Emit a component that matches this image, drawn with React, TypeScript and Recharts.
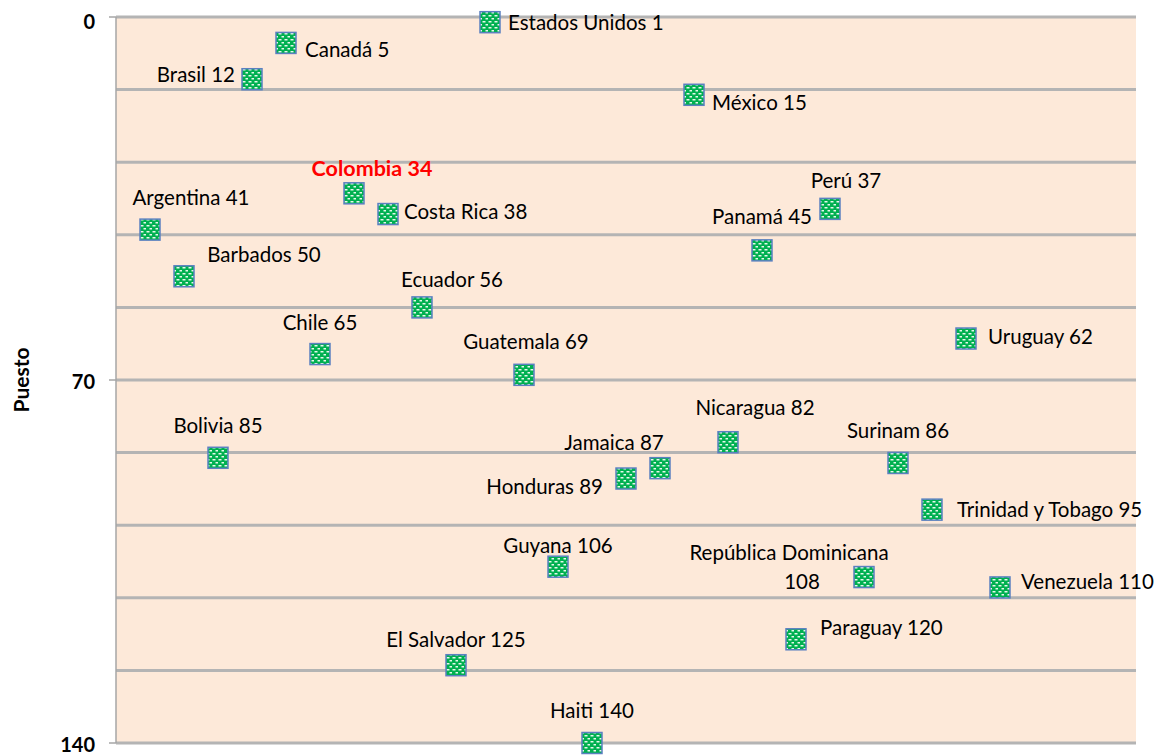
import { CartesianGrid, Scatter, ScatterChart, XAxis, YAxis, Label } from "recharts";

// paises en orden alfabetico, posicion horizontal = indice
const paises = [
  "Argentina", "Barbados", "Bolivia", "Brasil", "Canadá", "Chile", "Colombia", "Costa Rica",
  "Ecuador", "El Salvador", "Estados Unidos", "Guatemala", "Guyana", "Haiti", "Honduras",
  "Jamaica", "México", "Nicaragua", "Panamá", "Paraguay", "Perú", "República Dominicana",
  "Surinam", "Trinidad y Tobago", "Uruguay", "Venezuela",
];
const posicion = [1, 2, 3, 4, 5, 6, 7, 8, 9, 10, 11, 12, 13, 14, 15, 16, 17, 18, 19, 20, 21, 22, 23, 24, 25, 26];
const puestos = [41, 50, 85, 12, 5, 65, 34, 38, 56, 125, 1, 69, 106, 140, 89, 87, 15, 82, 45, 120, 37, 108, 86, 95, 62, 110];
const yTicks = [0, 14, 28, 42, 56, 70, 84, 98, 112, 126, 140];
const yLabels = [0, 70, 140];

const data = paises.map((p, i) => ({ pais: p, x: posicion[i], puesto: puestos[i] }));

// donde va cada etiqueta respecto al marcador
const etiquetas: Record<string, { dx: number; dy: number; a: string; dx2?: number; dy2?: number }> = {
  "Estados Unidos": { dx: 18, dy: 0, a: "start" },
  "Canadá": { dx: 19, dy: 6, a: "start" },
  Brasil: { dx: -17, dy: -5, a: "end" },
  "México": { dx: 18, dy: 7, a: "start" },
  Colombia: { dx: 18, dy: -25, a: "middle" },
  "Costa Rica": { dx: 16, dy: -3, a: "start" },
  Argentina: { dx: 41, dy: -33, a: "middle" },
  "Perú": { dx: 16, dy: -29, a: "middle" },
  "Panamá": { dx: 0, dy: -34, a: "middle" },
  Barbados: { dx: 80, dy: -22, a: "middle" },
  Ecuador: { dx: 30, dy: -28, a: "middle" },
  Chile: { dx: 0, dy: -32, a: "middle" },
  Guatemala: { dx: 2, dy: -34, a: "middle" },
  Uruguay: { dx: 22, dy: -3, a: "start" },
  Bolivia: { dx: 0, dy: -33, a: "middle" },
  Nicaragua: { dx: 27, dy: -35, a: "middle" },
  Jamaica: { dx: -46, dy: -26, a: "middle" },
  Honduras: { dx: -23, dy: 7, a: "end" },
  Surinam: { dx: 0, dy: -33, a: "middle" },
  "Trinidad y Tobago": { dx: 25, dy: -1, a: "start" },
  Guyana: { dx: 0, dy: -22, a: "middle" },
  "República Dominicana": { dx: -75, dy: -25, a: "middle", dx2: -62, dy2: 4 },
  Venezuela: { dx: 21, dy: -6, a: "start" },
  Paraguay: { dx: 24, dy: -12, a: "start" },
  "El Salvador": { dx: 0, dy: -26, a: "middle" },
  Haiti: { dx: 0, dy: -33, a: "middle" },
};

const fuente = "Lato, 'Open Sans', sans-serif";

function Marcador(props: any) {
  const { cx, cy, payload } = props;
  const e = etiquetas[payload.pais];
  const rojo = payload.pais === "Colombia";
  const txtStyle = {
    fontFamily: fuente,
    fontSize: rojo ? 21.5 : 20.5,
    fill: rojo ? "#FF0000" : "#000",
    fontWeight: rojo ? 700 : 400,
  };
  return (
    <g>
      <rect x={cx - 10} y={cy - 10.5} width={20} height={21} fill="url(#verde)" stroke="#5B80C0" strokeWidth={1.5} />
      {e.dx2 !== undefined ? (
        <>
          <text x={cx + e.dx} y={cy + e.dy} textAnchor={e.a as any} dominantBaseline="central" style={txtStyle}>
            {payload.pais}
          </text>
          <text x={cx + e.dx2} y={cy + (e.dy2 as number)} textAnchor="middle" dominantBaseline="central" style={txtStyle}>
            {payload.puesto}
          </text>
        </>
      ) : (
        <text x={cx + e.dx} y={cy + e.dy} textAnchor={e.a as any} dominantBaseline="central" style={txtStyle}>
          {payload.pais + " " + payload.puesto}
        </text>
      )}
    </g>
  );
}

function TickY(props: any) {
  const { y, payload, x } = props;
  if (!yLabels.includes(payload.value)) return null;
  return (
    <g>
      <line x1={x + 1} x2={x + 8} y1={y} y2={y} stroke="#A6A6A6" strokeWidth={1.5} />
      <text x={x - 13} y={y + (payload.value === 0 ? 4 : 1)} textAnchor="end" dominantBaseline="central"
        style={{ fontFamily: fuente, fontSize: 20, fontWeight: 700, fill: "#000" }}>
        {payload.value}
      </text>
    </g>
  );
}

function App() {
  return (
    <div>
      <svg width={0} height={0} style={{ position: "absolute" }}>
        <defs>
          <pattern id="verde" width={6} height={6} patternUnits="userSpaceOnUse">
            <rect width={6} height={6} fill="#00B050" />
            <rect x={0.5} y={1} width={3} height={1.5} fill="#E6F8EC" />
            <rect x={3.5} y={4} width={3} height={1.5} fill="#E6F8EC" />
          </pattern>
        </defs>
      </svg>
      <ScatterChart width={1148} height={747} margin={{ top: 9, right: 20, bottom: 12, left: 0 }} style={{ overflow: "visible" }}>
        <CartesianGrid vertical={false} fill="#FDE9D9" fillOpacity={1} stroke="#B4B4B4" strokeWidth={3} />
        <XAxis type="number" dataKey="x" domain={[0, 30]} hide />
        <YAxis
          type="number"
          dataKey="puesto"
          domain={[0, 140]}
          reversed
          ticks={yTicks}
          interval={0}
          width={108}
          tickLine={false}
          tickSize={8}
          tickMargin={0}
          axisLine={{ stroke: "#A6A6A6", strokeWidth: 1.5 }}
          tick={<TickY />}
        >
          <Label
            content={() => (
              <text
                x={12}
                y={372}
                transform="rotate(-90, 12, 372)"
                textAnchor="middle"
                dominantBaseline="central"
                style={{ fontFamily: fuente, fontSize: 21, fontWeight: 700, fill: "#000" }}
              >
                Puesto
              </text>
            )}
          />
        </YAxis>
        <Scatter data={data} shape={<Marcador />} isAnimationActive={false} />
      </ScatterChart>
    </div>
  );
}

export default App;
